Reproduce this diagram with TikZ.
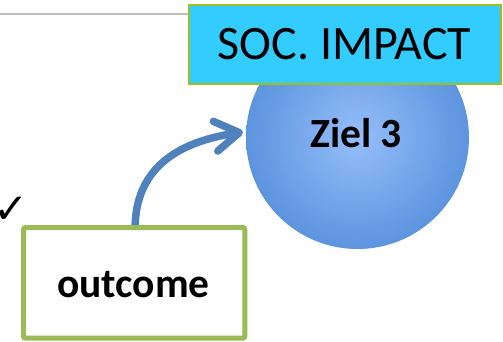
\documentclass[tikz,border=0pt]{standalone}
\usepackage{fontspec}
\setmainfont{Carlito}
\newfontfamily\symfont{DejaVu Sans}
\usetikzlibrary{arrows.meta}
\definecolor{cyanfill}{RGB}{51,204,255}
\definecolor{limeedge}{RGB}{160,190,30}
\definecolor{greenedge}{RGB}{155,187,89}
\definecolor{arrowblue}{RGB}{79,129,189}
\definecolor{ballin}{RGB}{150,190,250}
\definecolor{ballout}{RGB}{92,148,222}
\definecolor{rulegray}{RGB}{190,190,190}
\tikzset{
  socbox/.style={draw=limeedge, fill=cyanfill, line width=1.8pt, minimum width=312pt, minimum height=79pt, inner sep=0pt},
  ball/.style={circle, inner sep=0pt, minimum size=223pt, shading=radial, inner color=ballin, outer color=ballout},
  outbox/.style={draw=greenedge, fill=white, line width=5pt, rounded corners=2pt, minimum width=221.3pt, minimum height=110.7pt, inner sep=0pt},
  flow/.style={draw=arrowblue, line width=7.5pt, -{Straight Barb[length=24pt, width=30pt, round]}},
  bigtxt/.style={font=\fontsize{48}{56}\selectfont, inner sep=0pt},
  boldtxt/.style={font=\fontsize{41.5}{48}\selectfont\bfseries, inner sep=0pt},
}
\begin{document}
\begin{tikzpicture}[x=1pt, y=-1pt]
\useasboundingbox (0,0) rectangle (503,342);
\coordinate (rl) at (0,14);
\coordinate (rr) at (190,14);
\draw[rulegray, line width=1.5pt] (rl) -- (rr);
\node[ball] (ziel) at (357.5,137.5) {};
\node[boldtxt, anchor=base] (zieltxt) at (356,147.3) {Ziel 3};
\node[socbox] (soc) at (345,44.5) {};
\node[bigtxt, anchor=base] (soctxt) at (344.5,60) {SOC. IMPACT};
\node[outbox] (out) at (134.15,282.85) {};
\node[boldtxt, anchor=base] (outtxt) at (133.5,297) {outcome};
\node[font=\symfont\fontsize{42}{48}\selectfont, inner sep=0pt, anchor=base west, text=black] (chk) at (-7,223) {✓};
\draw[flow, shorten >=3pt] ([xshift=1pt]out.north) .. controls (137,160) and (190,140) .. (ziel.177);
\end{tikzpicture}
\end{document}
